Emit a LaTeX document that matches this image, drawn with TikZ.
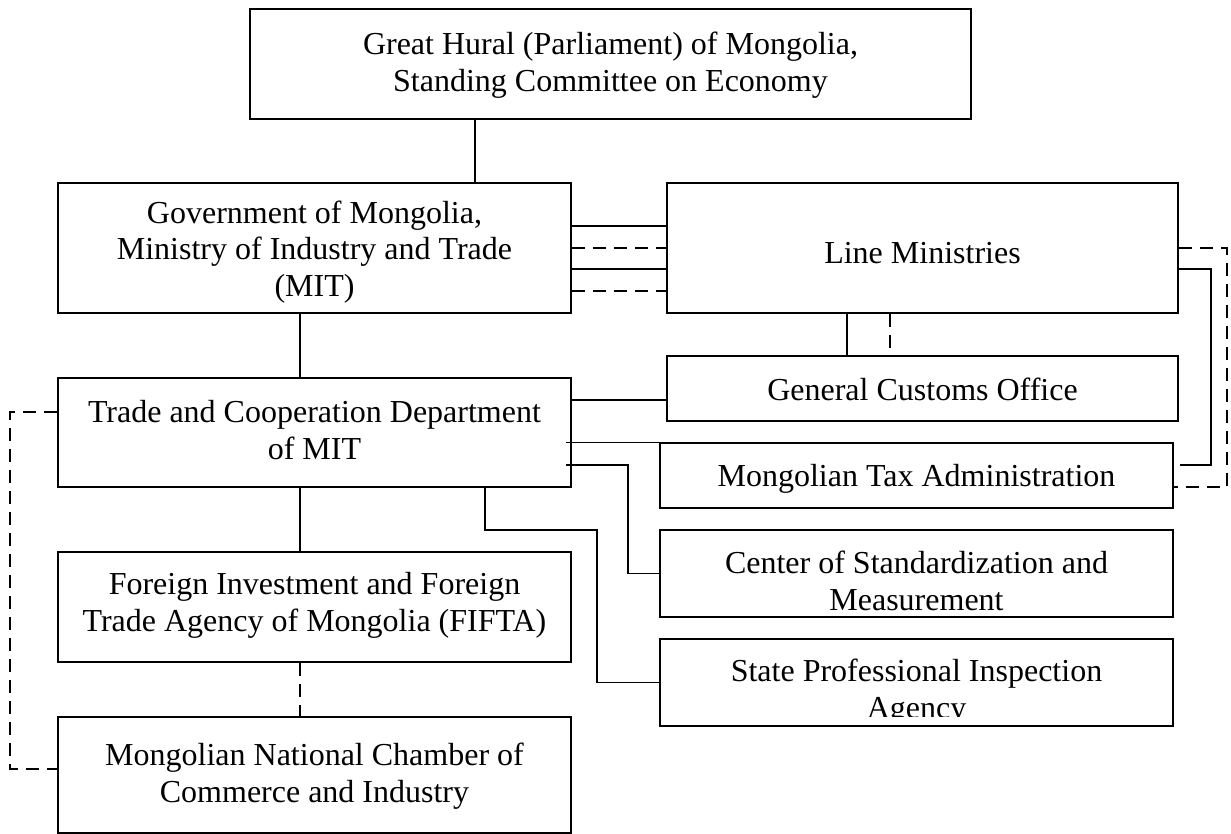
\documentclass[tikz,border=0pt]{standalone}
\usepackage{fontspec}
\setmainfont{Liberation Serif}
\begin{document}
\begin{tikzpicture}[x=1pt,y=-1pt,
  box/.style={draw, line width=1.5pt, inner sep=0pt},
  txt/.style={align=center, font=\fontsize{32}{36.8}\selectfont, inner sep=0pt},
  ln/.style={line width=1.4pt},
  dl/.style={line width=1.4pt, dash pattern=on 13pt off 8pt}]
\useasboundingbox (0,0) rectangle (1231,834);
% boxes
\node[box, minimum width=721pt, minimum height=110pt] (hural) at (610.5,64) {};
\node[box, minimum width=513pt, minimum height=130pt] (mit) at (314.5,248) {};
\node[box, minimum width=511pt, minimum height=130pt] (lm) at (922.5,248) {};
\node[box, minimum width=513pt, minimum height=109pt] (trade) at (314.5,432.5) {};
\node[box, minimum width=511pt, minimum height=65pt] (customs) at (922.5,388.5) {};
\node[box, minimum width=513pt, minimum height=65pt] (tax) at (916.5,475.5) {};
\node[box, minimum width=513pt, minimum height=87pt] (center) at (916.5,573.5) {};
\node[box, minimum width=513pt, minimum height=87pt] (state) at (916.5,682.5) {};
\node[box, minimum width=513pt, minimum height=110pt] (fifta) at (314.5,607) {};
\node[box, minimum width=513pt, minimum height=116pt] (chamber) at (314.5,775) {};
% texts
\node[txt] (hural-t) at (610.5,65) {Great Hural (Parliament) of Mongolia,\\Standing Committee on Economy};
\node[txt] (mit-t) at (314.5,252) {Government of Mongolia,\\Ministry of Industry and Trade\\(MIT)};
\node[txt] (lm-t) at (922.5,253) {Line Ministries};
\node[txt] (trade-t) at (314.5,430) {Trade and Cooperation Department\\of MIT};
\node[txt] (customs-t) at (922.5,389) {General Customs Office};
\node[txt] (tax-t) at (916.5,479) {Mongolian Tax Administration};
\node[txt] (center-t) at (916.5,581) {Center of Standardization and\\Measurement};
\begin{scope}
\clip (660,640) rectangle (1173,716.5);
\node[txt] (state-t) at (916.5,692) {State Professional Inspection\\Agency};
\end{scope}
\node[txt] (fifta-t) at (314.5,605) {Foreign Investment and Foreign\\Trade Agency of Mongolia (FIFTA)};
\node[txt] (chamber-t) at (314.5,776) {Mongolian National Chamber of\\Commerce and Industry};
% helper coordinates
\coordinate (x475) at (475,0);
\coordinate (x300) at (300,0);
\coordinate (b1) at (628,465);
\coordinate (b2) at (485,530);
\coordinate (b3) at (597,530);
\coordinate (r1) at (1211,269);
\coordinate (r2) at (1211,465);
\coordinate (s1) at (1227,248);
\coordinate (s2) at (1227,487);
\coordinate (l1) at (10,412);
\coordinate (l2) at (10,769);
\coordinate (y400) at (0,400);
\coordinate (c847) at (847,0);
\coordinate (c890) at (890,0);
\coordinate (c890e) at (890,349);
% connectors
\draw[ln] (hural.south -| x475) -- (mit.north -| x475);
\draw[ln] ([yshift=22pt]mit.east) -- ([yshift=22pt]lm.west);
\draw[dl] (mit.east) -- (lm.west);
\draw[ln] ([yshift=-21pt]mit.east) -- ([yshift=-21pt]lm.west);
\draw[dl] ([yshift=-43pt]mit.east) -- ([yshift=-43pt]lm.west);
\draw[ln] (lm.south -| c847) -- (customs.north -| c847);
\draw[dl] (lm.south -| c890) -- (c890e);
\draw[ln] (mit.south -| x300) -- (trade.north -| x300);
\draw[ln] (trade.south -| x300) -- (fifta.north -| x300);
\draw[dl] (fifta.south -| x300) -- (chamber.north -| x300);
\draw[ln] (trade.east |- y400) -- (customs.west |- y400);
\draw[ln] ([xshift=-6pt]trade.east |- tax.north) -- (tax.north west);
\draw[ln] ([xshift=-6pt]trade.east |- b1) -- (b1) |- (center.west);
\draw[ln] (trade.south -| b2) -- (b2) -- (b3) |- (state.west);
\draw[ln] (lm.east |- r1) -- (r1) -- (r2) -- ([xshift=6pt]tax.east |- r2);
\draw[dl] (lm.east |- s1) -- (s1) -- (s2) -- (tax.east |- s2);
\draw[dl] (trade.west |- l1) -- (l1) -- (l2) -- (chamber.west |- l2);
\end{tikzpicture}
\end{document}
